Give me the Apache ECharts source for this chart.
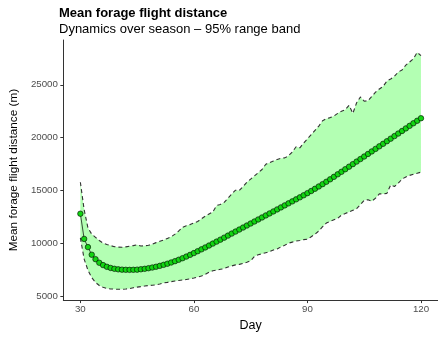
<!DOCTYPE html>
<html><head><meta charset="utf-8">
<script src="https://cdn.jsdelivr.net/npm/echarts@6/dist/echarts.min.js"></script>
<style>html,body{margin:0;padding:0;background:#fff}#c{width:438px;height:337px}</style>
</head><body><div id="c"></div>
<script>
const days = [];
for (let d = 30; d <= 120; d++) days.push(d);
const meanDist = [12830,10450,9680,8960,8540,8200,7980,7820,7710,7630,
7580,7550,7535,7530,7535,7550,7585,7630,7685,7750,
7825,7910,8005,8110,8225,8350,8485,8630,8785,8947,
9115,9290,9467,9646,9827,10010,10195,10382,10571,10762,
10955,11145,11335,11525,11715,11905,12095,12285,12475,12665,
12855,13045,13235,13425,13615,13805,13995,14185,14375,14570,
14770,14975,15185,15400,15620,15845,16075,16310,16548,16788,
17028,17268,17508,17748,17988,18228,18468,18708,18948,19188,
19428,19670,19912,20154,20396,20638,20880,21122,21364,21602,21840];
const upperDist = [15800,13200,11500,10900,10600,10300,10050,9930,9820,9720,
9680,9660,9700,9770,9820,9900,9780,9800,9850,9950,
10100,10230,10350,10500,10650,10900,11200,11550,11700,11800,
11950,12100,12350,12600,12800,13000,13600,13700,13900,14300,
14700,15050,15020,15400,15800,16100,16400,16700,17000,17500,
17650,17800,17950,18050,18100,18300,18650,19150,19050,19500,
19900,20300,20700,21100,21600,21800,21900,22050,22300,22500,
22650,23050,22300,23300,23850,23450,23500,23900,24300,24600,
24850,25350,25550,25800,26200,26400,26850,27150,27450,28050,27750];
const lowerDist = [10550,8550,7500,6800,6350,6050,5880,5780,5730,5710,
5700,5700,5720,5760,5850,5900,5950,6000,6050,6080,
6120,6200,6300,6350,6420,6480,6530,6580,6620,6690,
6760,6850,6950,7100,7300,7450,7500,7580,7650,7800,
7900,8000,8050,8150,8250,8380,8800,8950,9050,9150,
9250,9400,9500,9700,9850,10050,10150,10250,10300,10380,
10420,10650,10900,11200,11600,11950,12100,12250,12400,12700,
12850,13000,13150,13300,13700,14100,14150,14000,14300,14700,
14700,14750,15550,15400,15700,16100,16300,16450,16550,16650,16750];
const xTicks = [30, 60, 90, 120];
const yTicks = [5000, 10000, 15000, 20000, 25000];

const FONT = "'Liberation Sans', Arial, sans-serif";
const pair = arr => days.map((d, i) => [d, arr[i]]);
const bandData = days.map((d, i) => [d, lowerDist[i], upperDist[i]]);

const chart = echarts.init(document.getElementById('c'), null, {renderer: 'canvas'});
chart.setOption({
  animation: false,
  textStyle: {fontFamily: FONT},
  title: [
    {text: 'Mean forage flight distance', left: 59, top: 7, padding: 0,
     textStyle: {fontFamily: FONT, fontSize: 13, fontWeight: 'bold', color: '#000'}},
    {text: 'Dynamics over season \u2013 95% range band', left: 59, top: 23, padding: 0,
     textStyle: {fontFamily: FONT, fontSize: 13, fontWeight: 'normal', color: '#000'}}
  ],
  grid: {left: 58.5, top: 40, width: 387, height: 265, containLabel: false},
  xAxis: {
    type: 'value', min: 25.5, max: 124.5,
    name: 'Day', nameLocation: 'middle', nameGap: 15,
    nameTextStyle: {fontFamily: FONT, fontSize: 12.5, color: '#000'},
    axisLine: {onZero: false, lineStyle: {color: '#333', width: 1}},
    axisTick: {customValues: xTicks, length: 3, lineStyle: {color: '#333'}},
    axisLabel: {customValues: xTicks, margin: 4, fontFamily: FONT, fontSize: 9.7, color: '#4d4d4d',
                formatter: v => String(v)},
    splitLine: {show: false}
  },
  yAxis: {
    type: 'value', min: 4676, max: 29224,
    name: 'Mean forage flight distance (m)', nameLocation: 'middle', nameGap: 35,
    nameRotate: 90,
    nameTextStyle: {fontFamily: FONT, fontSize: 11.8, color: '#000'},
    axisLine: {show: true, onZero: false, lineStyle: {color: '#333', width: 1}},
    axisTick: {show: true, customValues: yTicks, length: 3, lineStyle: {color: '#333'}},
    axisLabel: {customValues: yTicks, margin: 5.5, fontFamily: FONT, fontSize: 9.7, color: '#4d4d4d',
                formatter: v => String(v)},
    splitLine: {show: false}
  },
  series: [
    {type: 'custom', data: bandData, silent: true, z: 1,
     encode: {x: 0, y: [1, 2]},
     renderItem: function (params, api) {
       if (params.dataIndex !== 0) return null;
       const pts = [];
       for (let i = 0; i < bandData.length; i++) pts.push(api.coord([bandData[i][0], bandData[i][2]]));
       for (let i = bandData.length - 1; i >= 0; i--) pts.push(api.coord([bandData[i][0], bandData[i][1]]));
       return {type: 'polygon', shape: {points: pts}, style: {fill: '#b3ffb3', stroke: null}};
     }},
    {type: 'line', data: pair(upperDist), symbol: 'none',
     lineStyle: {color: '#333', width: 1.1, type: [4, 3]}, z: 2},
    {type: 'line', data: pair(lowerDist), symbol: 'none',
     lineStyle: {color: '#333', width: 1.1, type: [4, 3]}, z: 2},
    {type: 'line', data: pair(meanDist), symbol: 'circle', symbolSize: 5.5,
     lineStyle: {color: '#000', width: 0.7},
     itemStyle: {color: '#12d412', borderColor: '#000', borderWidth: 0.6}, z: 3}
  ]
});
</script></body></html>
